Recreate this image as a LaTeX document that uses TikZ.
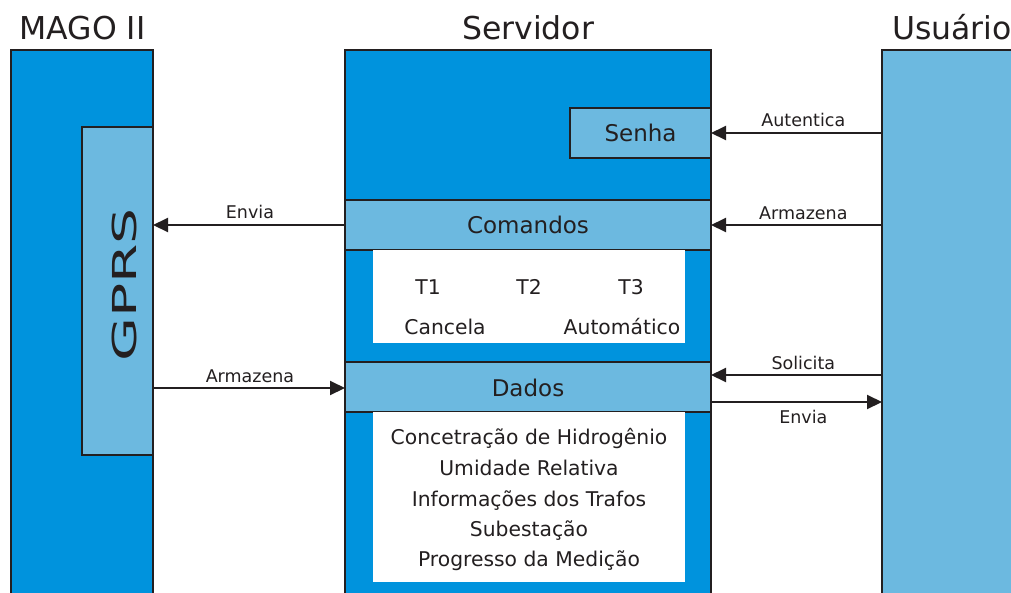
\documentclass[tikz,border=0pt]{standalone}
\usepackage{fontspec}
\setmainfont{DejaVu Sans}
\usetikzlibrary{arrows.meta}
\definecolor{dblue}{RGB}{0,147,221}
\definecolor{lblue}{RGB}{108,185,224}
\definecolor{ink}{RGB}{35,31,32}
\begin{document}
\begin{tikzpicture}[x=1pt,y=-1pt,
  box/.style={draw=ink, line width=2.5pt, inner sep=0pt, outer sep=0pt, anchor=north west},
  area/.style={fill=white, inner sep=0pt, outer sep=0pt, anchor=north west},
  title/.style={font=\fontsize{31.5}{36}\selectfont, text=ink, anchor=base, inner sep=0pt},
  band/.style={font=\fontsize{23}{27}\selectfont, text=ink, inner sep=0pt},
  item/.style={font=\fontsize{20.3}{24}\selectfont, text=ink, anchor=base, inner sep=0pt},
  lbl/.style={font=\fontsize{17.5}{20}\selectfont, text=ink, anchor=base, inner sep=0pt},
  arr/.style={draw=ink, line width=2pt, -{Triangle[length=15pt,width=14pt]}}
]
\useasboundingbox (0,0) rectangle (1011,592);
\clip (0,0) rectangle (1011,592);
\fill[white] (0,0) rectangle (1011,592);

% titles
\node[title] (tmago) at (82.5,39) {MAGO II};
\node[title] (tserv) at (528,39) {Servidor};
\node[title, anchor=base west] (tusr) at (892,39) {Usuário};

% MAGO II
\node[box, fill=dblue, minimum width=142pt, minimum height=560pt] (mago) at (11,50) {};
\node[box, fill=lblue, minimum width=71pt, minimum height=328pt] (gprs) at (82,127) {};
\node[font=\fontsize{33}{36}\selectfont, text=ink, rotate=90, inner sep=0pt] (gprstxt) at (124.5,285) {\scalebox{1.72}[1]{GPRS}};

% Servidor
\node[box, fill=dblue, minimum width=366pt, minimum height=560pt] (serv) at (345,50) {};
\node[box, fill=lblue, minimum width=141pt, minimum height=50pt] (senha) at (570,108) {};
\node[band] at (senha.center) {Senha};
\node[box, fill=lblue, minimum width=366pt, minimum height=50pt] (cmd) at (345,200) {};
\node[band] at (cmd.center) {Comandos};
\node[area, minimum width=312pt, minimum height=93pt] (cmdarea) at (373,250) {};
\node[box, fill=lblue, minimum width=366pt, minimum height=50pt] (dados) at (345,362) {};
\node[band] at ([yshift=-1pt]dados.center) {Dados};
\node[area, minimum width=312pt, minimum height=170pt] (dataarea) at (373,412) {};

\node[item] (t1) at (428,294) {T1};
\node[item] (t2) at (529,294) {T2};
\node[item] (t3) at (631,294) {T3};
\node[item] (canc) at (445,334) {Cancela};
\node[item] (auto) at (622,334) {Automático};

\node[item] (d1) at (529,444) {Concetração de Hidrogênio};
\node[item] (d2) at (529,475) {Umidade Relativa};
\node[item] (d3) at (529,506) {Informações dos Trafos};
\node[item] (d4) at (529,536) {Subestação};
\node[item] (d5) at (529,566) {Progresso da Medição};

% Usuario
\node[box, fill=lblue, minimum width=160pt, minimum height=560pt] (usr) at (882,50) {};

% connectors
\draw[arr] (usr.west |- senha.east) -- node[lbl, pos=0.46, yshift=7pt] {Autentica} (senha.east);
\draw[arr] (usr.west |- cmd.east) -- node[lbl, pos=0.46, yshift=6pt] {Armazena} (cmd.east);
\draw[arr] (cmd.west) -- node[lbl, pos=0.495, yshift=7pt] {Envia} (gprs.east |- cmd.west);
\draw[arr] (gprs.east |- 0,388) coordinate (ga) -- node[lbl, pos=0.505, yshift=6pt] {Armazena} (dados.west |- ga);
\draw[arr] (usr.west |- 0,375) coordinate (so) -- node[lbl, pos=0.46, yshift=6pt] {Solicita} (dados.east |- so);
\draw[arr] (dados.east |- 0,402) coordinate (en) -- node[lbl, pos=0.54, yshift=-21pt] {Envia} (usr.west |- en);
\end{tikzpicture}
\end{document}
